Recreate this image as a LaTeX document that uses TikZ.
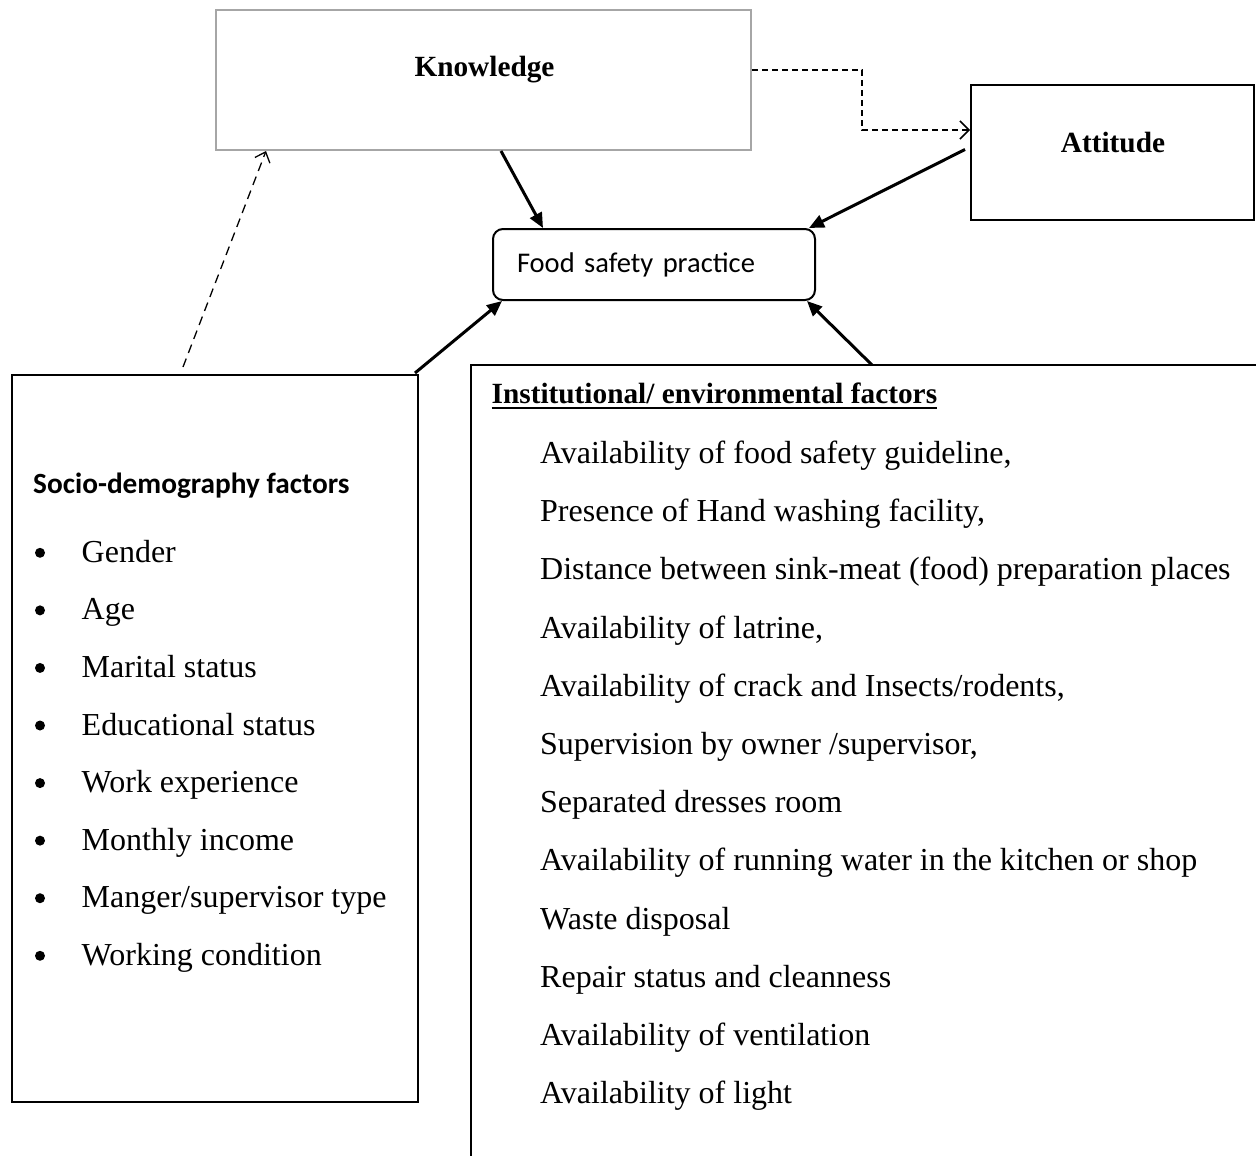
\documentclass[tikz,border=0pt]{standalone}
\usepackage{fontspec}
\setmainfont{Liberation Serif}
\newfontfamily\calibri{Carlito}
\usetikzlibrary{arrows.meta,calc}
\begin{document}
\begin{tikzpicture}[x=1pt,y=-1pt,
  box/.style={draw, line width=2pt, inner sep=0pt},
  txt/.style={inner sep=0pt, anchor=base west, font=\fontsize{32}{38}\selectfont},
  title/.style={inner sep=0pt, anchor=base, font=\fontsize{29.3}{35}\selectfont\bfseries},
  solidarrow/.style={line width=3pt, -{Triangle[length=15pt,width=13pt]}},
  dasharrow/.style={line width=1.3pt, dash pattern=on 9pt off 6pt, -{Straight Barb[length=9pt,width=16pt]}},
  elbowarrow/.style={line width=1.5pt, dash pattern=on 6pt off 4pt, -{Straight Barb[length=9pt,width=18pt]}},
]
\useasboundingbox (0,0) rectangle (1256,1156);

% Knowledge
\node[box, draw=black!35, minimum width=535pt, minimum height=140pt] (knowledge) at (483.5,80) {};
\node[title] (knowledgetext) at (484.5,77) {Knowledge};

% Attitude
\node[box, minimum width=283pt, minimum height=135pt] (attitude) at (1112.5,152.5) {};
\node[title] (attitudetext) at (1113,152) {Attitude};

% Food safety practice
\node[box, rounded corners=10pt, minimum width=322pt, minimum height=71pt,
      inner xsep=24pt, text width=274pt, align=left,
      font=\calibri\fontsize{28.5}{34}\selectfont] (food) at (654,264.5) {Food safety practice};

% Socio-demography factors
\node[box, minimum width=406pt, minimum height=727pt] (socio) at (215,738.5) {};
\node[inner sep=0pt, anchor=base west, font=\calibri\fontsize{29.3}{35}\selectfont\bfseries]
  (sociohead) at (33,493) {Socio-demography factors};
\foreach \t [count=\i from 0] in {Gender, Age, Marital status, Educational status,
    Work experience, Monthly income, Manger/supervisor type, Working condition} {
  \node[txt] (s\i) at (81.5, 562.3+57.57*\i) {\t};
  \fill ([xshift=-41.5pt, yshift=9.5pt]s\i.base west) circle (5pt);
}

% Institutional / environmental factors
\node[inner sep=0pt, minimum width=785pt, minimum height=791pt, anchor=north west] (inst) at (471,365) {};
\draw[line width=2pt] (inst.south west) -- (inst.north west) -- (inst.north east);
\node[inner sep=0pt, anchor=base west, font=\fontsize{29.3}{35}\selectfont\bfseries]
  (insthead) at (491.5,403) {Institutional/ environmental factors};
\draw[line width=2.5pt] ([yshift=-5pt]insthead.base west) -- ([yshift=-5pt]insthead.base east);
\foreach \t [count=\i from 0] in {Availability of food safety guideline{,},
    Presence of Hand washing facility{,},
    Distance between sink-meat (food) preparation places,
    Availability of latrine{,},
    Availability of crack and Insects/rodents{,},
    Supervision by owner /supervisor{,},
    Separated dresses room,
    Availability of running water in the kitchen or shop,
    Waste disposal,
    Repair status and cleanness,
    Availability of ventilation,
    Availability of light} {
  \node[txt] (e\i) at (540, 463.5+58.2*\i) {\t};
}

% Connectors
\draw[solidarrow] ([xshift=17.5pt]knowledge.south) -- ([xshift=-111pt]food.north);
\draw[solidarrow] ([xshift=-5pt,yshift=3pt]attitude.west) -- ([xshift=-7pt]food.north east);
\draw[solidarrow] ([xshift=-4pt,yshift=1pt]socio.north east) -- ([xshift=10pt]food.south west);
\draw[solidarrow] ([xshift=401pt]inst.north west) -- ([xshift=-9pt]food.south east);
\draw[dasharrow] ([xshift=-32pt,yshift=7pt]socio.north) -- ([xshift=51pt]knowledge.south west);
\draw[elbowarrow] ([yshift=10pt]knowledge.east) -- ++(110,0) |- ([yshift=22.5pt]attitude.west);
\end{tikzpicture}
\end{document}
